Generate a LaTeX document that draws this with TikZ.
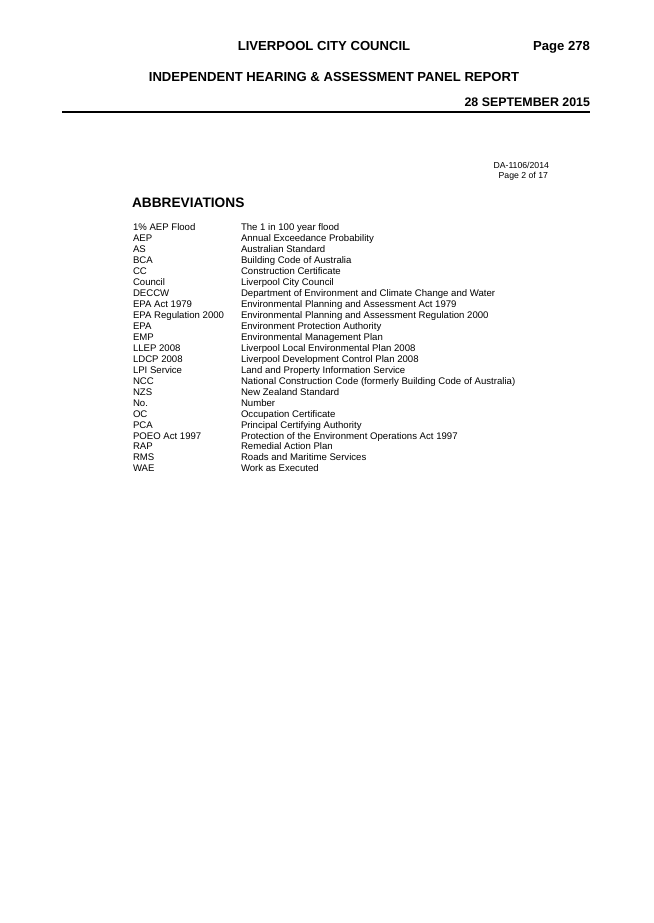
\documentclass[tikz,border=0pt]{standalone}
\usepackage{fontspec}
\setmainfont{Liberation Sans}
\begin{document}
\begin{tikzpicture}[x=1pt,y=-1pt,
  every node/.style={inner sep=0pt,outer sep=0pt},
  head/.style={font=\fontsize{13.1}{15}\selectfont\bfseries},
  title/.style={font=\fontsize{13.7}{16}\selectfont\bfseries, anchor=base west},
  small/.style={font=\fontsize{8.7}{10}\selectfont, anchor=base east},
  abbr/.style={font=\fontsize{9.6}{11}\selectfont, anchor=base west}]
\useasboundingbox[fill=white] (0,0) rectangle (653,923);
% header
\node[head,anchor=base] (lcc) at (324,51) {LIVERPOOL CITY COUNCIL};
\node[head,anchor=base east] (pg) at (590,51) {Page 278};
\node[head,anchor=base] (ihap) at (334,82) {INDEPENDENT HEARING \& ASSESSMENT PANEL REPORT};
\node[head,anchor=base east,font=\fontsize{12.4}{14}\selectfont\bfseries] (date) at (590,107) {28 SEPTEMBER 2015};
\coordinate (rl) at (62,112);
\coordinate (rr) at (590,112);
\draw[line width=1.3pt] (rl) -- (rr);
% reference
\node[small] (da) at (549,168.2) {DA-1106/2014};
\node[small] (pof) at (548,178.6) {Page 2 of 17};
% title
\node[title] (abbrev) at (132,207.5) {ABBREVIATIONS};
% table
\node[abbr] (k1) at (133,230.9) {1\% AEP Flood};
\node[abbr] (v1) at (241,230.9) {The 1 in 100 year flood};
\node[abbr] (k2) at (133,241.9) {AEP};
\node[abbr] (v2) at (241,241.9) {Annual Exceedance Probability};
\node[abbr] (k3) at (133,252.8) {AS};
\node[abbr] (v3) at (241,252.8) {Australian Standard};
\node[abbr] (k4) at (133,263.8) {BCA};
\node[abbr] (v4) at (241,263.8) {Building Code of Australia};
\node[abbr] (k5) at (133,274.7) {CC};
\node[abbr] (v5) at (241,274.7) {Construction Certificate};
\node[abbr] (k6) at (133,285.7) {Council};
\node[abbr] (v6) at (241,285.7) {Liverpool City Council};
\node[abbr] (k7) at (133,296.6) {DECCW};
\node[abbr] (v7) at (241,296.6) {Department of Environment and Climate Change and Water};
\node[abbr] (k8) at (133,307.6) {EPA Act 1979};
\node[abbr] (v8) at (241,307.6) {Environmental Planning and Assessment Act 1979};
\node[abbr] (k9) at (133,318.5) {EPA Regulation 2000};
\node[abbr] (v9) at (241,318.5) {Environmental Planning and Assessment Regulation 2000};
\node[abbr] (k10) at (133,329.5) {EPA};
\node[abbr] (v10) at (241,329.5) {Environment Protection Authority};
\node[abbr] (k11) at (133,340.4) {EMP};
\node[abbr] (v11) at (241,340.4) {Environmental Management Plan};
\node[abbr] (k12) at (133,351.4) {LLEP 2008};
\node[abbr] (v12) at (241,351.4) {Liverpool Local Environmental Plan 2008};
\node[abbr] (k13) at (133,362.3) {LDCP 2008};
\node[abbr] (v13) at (241,362.3) {Liverpool Development Control Plan 2008};
\node[abbr] (k14) at (133,373.3) {LPI Service};
\node[abbr] (v14) at (241,373.3) {Land and Property Information Service};
\node[abbr] (k15) at (133,384.2) {NCC};
\node[abbr] (v15) at (241,384.2) {National Construction Code (formerly Building Code of Australia)};
\node[abbr] (k16) at (133,395.2) {NZS};
\node[abbr] (v16) at (241,395.2) {New Zealand Standard};
\node[abbr] (k17) at (133,406.1) {No.};
\node[abbr] (v17) at (241,406.1) {Number};
\node[abbr] (k18) at (133,417.1) {OC};
\node[abbr] (v18) at (241,417.1) {Occupation Certificate};
\node[abbr] (k19) at (133,428.0) {PCA};
\node[abbr] (v19) at (241,428.0) {Principal Certifying Authority};
\node[abbr] (k20) at (133,439.0) {POEO Act 1997};
\node[abbr] (v20) at (241,439.0) {Protection of the Environment Operations Act 1997};
\node[abbr] (k21) at (133,449.9) {RAP};
\node[abbr] (v21) at (241,449.9) {Remedial Action Plan};
\node[abbr] (k22) at (133,460.9) {RMS};
\node[abbr] (v22) at (241,460.9) {Roads and Maritime Services};
\node[abbr] (k23) at (133,471.8) {WAE};
\node[abbr] (v23) at (241,471.8) {Work as Executed};
\end{tikzpicture}
\end{document}
